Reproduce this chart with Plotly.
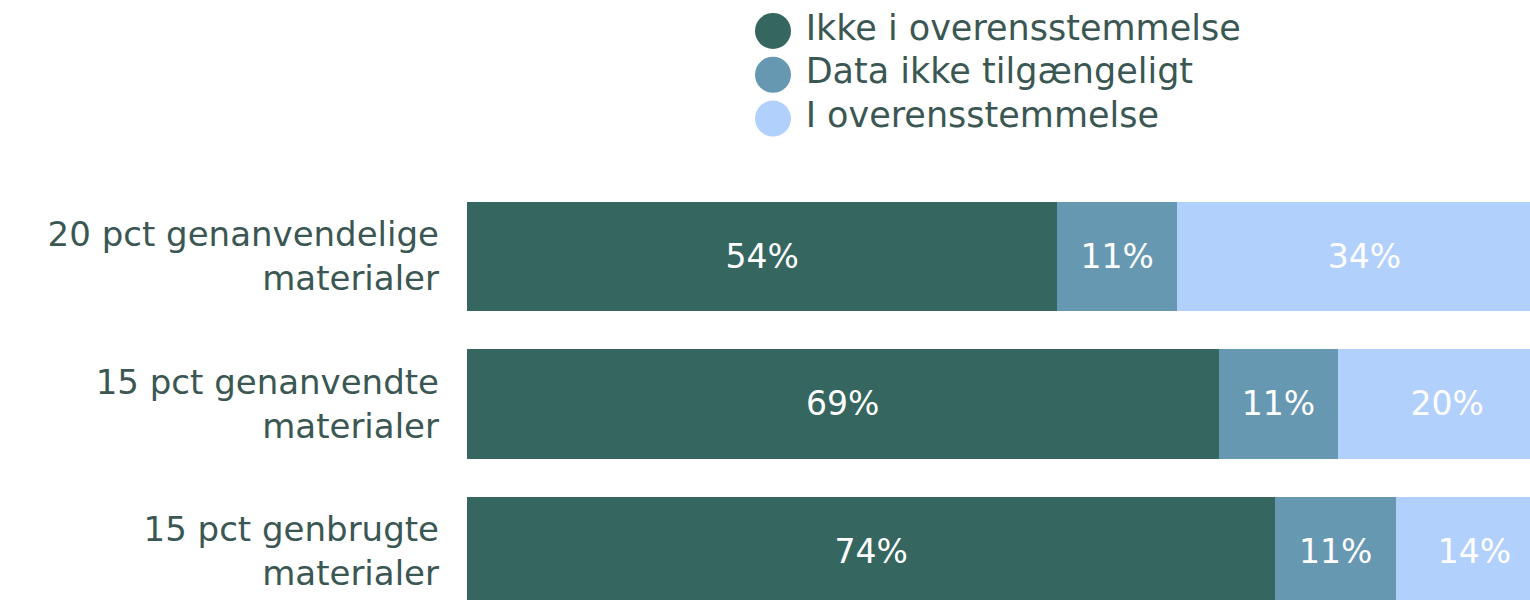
import plotly.graph_objects as go

categories = ["20 pct genanvendelige<br>materialer",
              "15 pct genanvendte<br>materialer",
              "15 pct genbrugte<br>materialer"]
series_names = ["Ikke i overensstemmelse", "Data ikke tilgængeligt", "I overensstemmelse"]
ikke_i_overensstemmelse = [54.2, 69.0, 74.2]
data_ikke_tilgaengeligt = [11.0, 11.0, 11.1]
i_overensstemmelse = [34.4, 20.0, 14.4]
series_values = [ikke_i_overensstemmelse, data_ikke_tilgaengeligt, i_overensstemmelse]
colors = ["#35665f", "#6798b2", "#b2d0fc"]

FONT = "DejaVu Sans"
TEXT_COLOR = "#3b5753"
W, H = 1530, 600

fig = go.Figure()
for name, vals, col in zip(series_names, series_values, colors):
    fig.add_trace(go.Bar(
        y=categories, x=vals, name=name, orientation="h",
        marker=dict(color=col, line=dict(width=0)),
        text=vals, texttemplate="%{x:.0f}%", textposition="inside",
        insidetextanchor="middle", textangle=0,
        textfont=dict(family=FONT, size=33, color="white"),
        showlegend=False, hoverinfo="x+name",
    ))

# custom legend with large circles
fig.add_trace(go.Scatter(
    x=[0, 0, 0], y=[0, 1, 2], mode="markers",
    marker=dict(size=36, color=colors),
    xaxis="x2", yaxis="y2", cliponaxis=False, showlegend=False, hoverinfo="skip",
))
fig.add_trace(go.Scatter(
    x=[0.044, 0.044, 0.044], y=[0, 1, 2], mode="text",
    text=series_names, textposition="middle right",
    textfont=dict(family=FONT, size=35, color=TEXT_COLOR),
    xaxis="x2", yaxis="y2", cliponaxis=False, showlegend=False, hoverinfo="skip",
))

fig.update_layout(
    width=W, height=H,
    margin=dict(l=0, r=0, t=0, b=0),
    paper_bgcolor="white", plot_bgcolor="white",
    barmode="stack", bargap=0.26,
    font=dict(family=FONT, color=TEXT_COLOR),
    xaxis=dict(domain=[467 / W, 1], range=[0, 97.6], visible=False, fixedrange=True),
    yaxis=dict(domain=[0, (H - 182.75) / H], range=[2.329, -0.5], type="category",
               categoryorder="array", categoryarray=categories,
               showgrid=False, zeroline=False, showline=False, ticks="",
               ticklabelstandoff=27, automargin=False,
               tickfont=dict(family=FONT, size=34, color=TEXT_COLOR)),
    xaxis2=dict(domain=[773 / W, 0.99], range=[0, 1], visible=False, anchor="y2"),
    yaxis2=dict(domain=[1 - 140.4 / H, 1 - 9.1 / H], range=[2.5, -0.5], visible=False, anchor="x2"),
)

fig.write_html("out.html", config={"displayModeBar": False},
               post_script="document.body.style.margin='0';document.body.style.overflow='hidden';")
